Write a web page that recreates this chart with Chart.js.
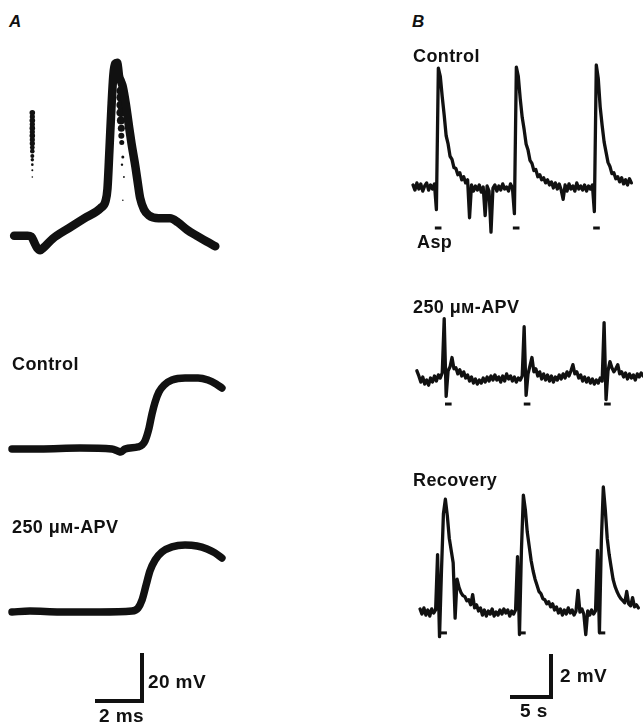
<!DOCTYPE html>
<html>
<head>
<meta charset="utf-8">
<script src="https://cdn.jsdelivr.net/npm/chart.js@4/dist/chart.umd.min.js"></script>
<style>
  html, body { margin: 0; padding: 0; background: #fff; }
  #fig { position: relative; width: 643px; height: 722px; overflow: hidden; background: #fff; }
  .lbl { position: absolute; font-family: "Liberation Sans", Arial, sans-serif; font-weight: bold;
         font-size: 18px; line-height: 1; color: #111; white-space: nowrap; letter-spacing: 0.4px; z-index: 2; }
  .big { font-size: 19px; }
  .panel { font-style: italic; font-size: 17px; }
</style>
</head>
<body>
<div id="fig">
  <div class="lbl panel" style="left:9px;top:13px">A</div>
  <div class="lbl panel" style="left:412px;top:13px">B</div>
  <div class="lbl" style="left:12px;top:355px">Control</div>
  <div class="lbl" style="left:12px;top:518px">250 μм-APV</div>
  <div class="lbl" style="left:413px;top:47px">Control</div>
  <div class="lbl" style="left:417px;top:233px">Asp</div>
  <div class="lbl" style="left:413px;top:298px">250 μм-APV</div>
  <div class="lbl" style="left:413px;top:471px">Recovery</div>
  <div class="lbl big" style="left:148px;top:672px">20 mV</div>
  <div class="lbl big" style="left:99px;top:706px">2 ms</div>
  <div class="lbl big" style="left:560px;top:666px">2 mV</div>
  <div class="lbl big" style="left:520px;top:701px">5 s</div>
</div>
<script>
const INK = '#111';

// Panel A: action potential, ms / mV
const aSpikeTime = [0, 0.62, 0.8, 0.93, 1.07, 1.2, 1.38, 1.78, 2.53, 3.24, 4.0, 4.22, 4.31, 4.4, 4.49, 4.58, 4.67, 4.76,
  4.8, 4.84, 4.93, 5.02, 5.16, 5.29, 5.42, 5.6, 5.73, 5.82, 6.0, 6.22, 6.67, 7.2, 7.56, 8.0, 8.44, 8.89, 9.29];
const aSpikeMv = [0.4, 0.4, 0, -2.6, -5.2, -6.1, -4.8, -0.9, 3.9, 8.3, 13.0, 16.1, 21.7, 39.1, 57.8, 73.0, 78.3, 78.7,
  76.5, 73.0, 70.4, 67.8, 60.0, 50.9, 42.2, 31.7, 23.0, 17.4, 12.2, 9.6, 8.3, 8.3, 6.5, 3.0, 0.4, -2.2, -4.3];
// dotted streaks (fast sweeps)
const aDotsLeftTime = [0.84, 0.84, 0.84, 0.84, 0.84, 0.84, 0.84, 0.84, 0.84, 0.84, 0.84, 0.84, 0.84, 0.84, 0.84, 0.84];
const aDotsLeftMv = [56.1, 54.3, 52.6, 50.9, 49.1, 47.4, 45.7, 43.9, 42.2, 40.4, 38.7, 36.5, 34.8, 32.6, 30.0, 27.0];
const aDotsMidTime = [4.93, 4.93, 4.93, 4.93, 4.93, 4.95, 4.95, 4.97, 5.02, 4.98, 5.07, 5.02];
const aDotsMidMv = [66.0, 63.0, 59.6, 56.1, 52.6, 49.1, 45.7, 42.6, 36.1, 32.6, 27.0, 16.5];

// Panel A: synaptic potentials
const aControlTime = [0, 1.24, 3.02, 4.44, 4.71, 4.84, 5.02, 5.6, 5.78, 5.91, 6.09, 6.22, 6.36, 6.53, 6.76, 7.11, 7.69, 8.27, 8.71, 9.07, 9.33];
const aControlMv = [0, 0, 0.4, 0, -0.9, -1.3, 0, 0.9, 1.7, 3.5, 9.1, 15.2, 20.4, 24.8, 27.8, 30.0, 30.9, 30.9, 30.0, 28.3, 26.5];
const aApvTime = [0, 0.8, 2.13, 3.91, 5.33, 5.6, 5.78, 5.96, 6.13, 6.36, 6.67, 7.11, 7.69, 8.22, 8.67, 9.02, 9.33];
const aApvMv = [0, 0.4, 0, 0, 0.4, 1.7, 5.2, 11.7, 17.8, 22.6, 26.1, 28.3, 29.1, 28.7, 27.4, 25.7, 23.5];

// Panel B: aspartate responses, sampled every 0.25 s (mV)
const B_STEP = 0.25;
const bControlStart = 0;
const bControlMv = [
  0.1, -0.15, 0.2, -0.1, 0.15, -0.2, 0.05, 0.2, -0.15, 0.1,
  -0.1, 0.15, -1.1, 5.8, 5.4, 4.4, 3.5, 2.5, 2.1, 1.5,
  1.35, 0.95, 0.9, 0.6, 0.7, 0.35, 0.5, 0.2, 0.35, -1.5,
  0.1, -0.2, 0.05, -0.15, 0.1, -0.25, 0.0, -1.4, 0.05, -0.2,
  -2.2, -0.05, 0.1, -0.2, 0.05, -0.15, 0.15, -0.1, 0.0, -0.2,
  0.15, -0.05, -1.3, 5.85, 5.4, 4.3, 3.4, 2.8, 2.1, 1.8,
  1.3, 1.15, 0.8, 0.85, 0.5, 0.6, 0.35, 0.45, 0.2, 0.35,
  0.1, 0.25, -0.05, 0.2, -0.1, 0.15, -0.15, -0.6, 0.1, -0.2,
  0.15, -0.1, 0.05, -0.2, 0.2, -0.1, 0.05, -0.15, 0.1, -0.2,
  0.05, -0.1, 0.1, -1.2, 5.95, 5.3, 3.9, 3.0, 2.2, 1.7,
  1.2, 1.0, 0.65, 0.7, 0.4, 0.5, 0.25, 0.45, 0.15, 0.35,
  0.1, 0.4, 0.2];
const bApvStart = 0.5;
const bApvMv = [
  0.35, 0.1, -0.2, 0.05, -0.3, -0.1, -0.35, 0.0, -0.2, 0.1,
  -0.15, 0.15, 0.0, 0.25, 2.9, -0.9, 0.35, 0.55, 1.0, 0.45,
  0.5, 0.2, 0.4, 0.1, 0.3, 0.0, 0.15, -0.15, 0.05, -0.25,
  -0.05, -0.3, -0.1, -0.25, 0.0, -0.2, 0.05, -0.15, 0.1, -0.1,
  0.15, -0.1, 0.05, -0.2, 0.1, -0.15, 0.2, -0.05, 0.1, -0.15,
  0.05, -0.2, 0.0, -0.1, 0.1, 2.5, -0.85, 0.2, 0.6, 1.0,
  0.3, 0.45, 0.1, 0.3, -0.05, 0.2, -0.1, 0.15, -0.15, 0.1,
  -0.2, 0.05, -0.1, 0.15, -0.05, 0.2, 0.0, 0.3, 0.1, 0.35,
  0.65, 0.2, 0.3, 0.0, 0.15, -0.15, 0.05, -0.2, 0.0, -0.25,
  -0.05, -0.3, -0.1, -0.25, 0.0, -0.15, 2.7, -1.05, 0.35, 0.8,
  0.5, 0.3, 0.45, 0.65, 0.2, 0.3, 0.05, 0.25, -0.05, 0.2,
  0.0, 0.15, -0.1, 0.2, 0.05, 0.25, 0.1];
const bRecoveryStart = 0.9;
const bRecoveryMv = [
  0.15, -0.1, 0.2, -0.15, 0.1, -0.2, 0.15, -0.05, 0.1, 2.8,
  -1.2, 2.0, 4.8, 5.5, 4.7, 3.6, 3.0, 2.4, -0.3, 1.6,
  1.2, 0.95, 0.8, 0.75, 0.55, 0.6, 0.35, 0.85, 0.2, 0.35,
  0.05, 0.2, -0.15, 0.1, -0.2, 0.05, -0.1, 0.15, -0.2, 0.0,
  -0.15, 0.1, -0.1, 0.15, -0.05, 0.1, -0.2, 0.05, -0.1, 0.1,
  2.7, -1.1, 3.0, 5.7, 5.0, 3.9, 3.2, 2.5, 2.0, 1.6,
  1.3, 1.0, 0.9, 0.65, 0.6, 0.4, 0.5, 0.25, 0.4, 0.1,
  0.25, -0.05, 0.15, -0.15, 0.1, -0.1, 0.2, -0.05, 0.1, -0.15,
  0.05, 1.05, 0.0, 0.15, -0.1, -1.1, 0.05, -0.15, 0.1, -0.1,
  0.05, 3.0, -1.0, 3.5, 6.1, 5.0, 3.6, 2.8, 2.2, 1.6,
  1.25, 1.0, 0.8, 0.65, 0.55, 0.45, 1.0, 0.4, 0.3, 0.7,
  0.25, 0.35, 0.2];

// aspartate application markers: start times (s), duration, level (mV)
const aspControlStarts = [2.8, 12.8, 23.1];
const aspApvStarts = [4.1, 14.2, 24.5];
const aspRecoveryStarts = [3.5, 13.6, 23.8];
const aspDuration = 0.85;
const aspControlLevel = -2.0;
const aspApvLevel = -1.27;
const aspRecoveryLevel = -1.02;

// calibration bars
const calA_ms = [0, 2, 2];
const calA_mV = [0, 0, 20];
const calB_s = [0, 5, 5];
const calB_mV = [0, 0, 2];

// layout: canvas box, data origin (px) and px per unit
const boxes = {
  aSpike:    { left: 0,   top: 40,  width: 240, height: 230, ox: 10,  oy: 240, kx: 22.5, ky: 2.3 },
  aControl:  { left: 0,   top: 360, width: 240, height: 100, ox: 12,  oy: 449, kx: 22.5, ky: 2.3 },
  aApv:      { left: 0,   top: 530, width: 240, height: 95,  ox: 12,  oy: 612, kx: 22.5, ky: 2.3 },
  aCal:      { left: 85,  top: 645, width: 70,  height: 65,  ox: 97,  oy: 701, kx: 22.5, ky: 2.3 },
  bControl:  { left: 405, top: 55,  width: 238, height: 190, ox: 413, oy: 187, kx: 7.8,  ky: 20.5 },
  bApv:      { left: 405, top: 310, width: 238, height: 100, ox: 413, oy: 378, kx: 7.8,  ky: 20.5 },
  bRecovery: { left: 405, top: 480, width: 238, height: 170, ox: 413, oy: 612, kx: 7.8,  ky: 20.5 },
  bCal:      { left: 500, top: 645, width: 70,  height: 60,  ox: 512, oy: 697, kx: 7.8,  ky: 20.5 }
};

const pts = (xs, ys) => xs.map((x, i) => ({ x, y: ys[i] }));
const sampled = (t0, vals) => vals.map((v, i) => ({ x: t0 + i * B_STEP, y: v }));

function trace(data, width, smooth) {
  return {
    data, borderColor: INK, borderWidth: width, pointRadius: 0, fill: false, clip: false,
    borderJoinStyle: 'round', borderCapStyle: 'round', tension: 0,
    cubicInterpolationMode: smooth ? 'monotone' : 'default'
  };
}

function dots(data, radii) {
  return {
    data, showLine: false, pointRadius: radii, pointBackgroundColor: INK,
    pointBorderWidth: 0, clip: false
  };
}

function aspBars(starts, level) {
  return starts.map(s => ({
    data: [{ x: s, y: level }, { x: s + aspDuration, y: level }],
    borderColor: INK, borderWidth: 3, pointRadius: 0, borderCapStyle: 'butt', clip: false
  }));
}

function makeChart(name, datasets) {
  const b = boxes[name];
  const cv = document.createElement('canvas');
  cv.width = b.width;
  cv.height = b.height;
  cv.style.cssText = `position:absolute;left:${b.left}px;top:${b.top}px;width:${b.width}px;height:${b.height}px;z-index:1`;
  document.getElementById('fig').appendChild(cv);
  return new Chart(cv, {
    type: 'line',
    data: { datasets },
    options: {
      responsive: false,
      animation: false,
      events: [],
      layout: { padding: 0 },
      plugins: { legend: { display: false }, tooltip: { enabled: false } },
      scales: {
        x: { type: 'linear', display: false,
             min: (b.left - b.ox) / b.kx, max: (b.left + b.width - b.ox) / b.kx },
        y: { type: 'linear', display: false,
             min: (b.oy - b.top - b.height) / b.ky, max: (b.oy - b.top) / b.ky }
      }
    }
  });
}

makeChart('aSpike', [
  trace(pts(aSpikeTime, aSpikeMv), 8.5, true),
  dots(pts(aDotsLeftTime, aDotsLeftMv), [2.8, 2.6, 2.8, 2.6, 2.8, 2.6, 2.8, 2.6, 2.6, 2.4, 2.3, 2, 1.7, 1.3, 1, 0.8]),
  dots(pts(aDotsMidTime, aDotsMidMv), [4.5, 4.5, 4.5, 4.5, 4, 3.5, 3, 2.5, 1.5, 1.2, 0.9, 0.8])
]);
makeChart('aControl', [trace(pts(aControlTime, aControlMv), 7.5, true)]);
makeChart('aApv', [trace(pts(aApvTime, aApvMv), 7.5, true)]);
makeChart('aCal', [Object.assign(trace(pts(calA_ms, calA_mV), 4, false), { borderCapStyle: 'square', borderJoinStyle: 'miter' })]);

makeChart('bControl', [trace(sampled(bControlStart, bControlMv), 3.3, false), ...aspBars(aspControlStarts, aspControlLevel)]);
makeChart('bApv', [trace(sampled(bApvStart, bApvMv), 3.3, false), ...aspBars(aspApvStarts, aspApvLevel)]);
makeChart('bRecovery', [trace(sampled(bRecoveryStart, bRecoveryMv), 3.3, false), ...aspBars(aspRecoveryStarts, aspRecoveryLevel)]);
makeChart('bCal', [Object.assign(trace(pts(calB_s, calB_mV), 4, false), { borderCapStyle: 'square', borderJoinStyle: 'miter' })]);
</script>
</body>
</html>
